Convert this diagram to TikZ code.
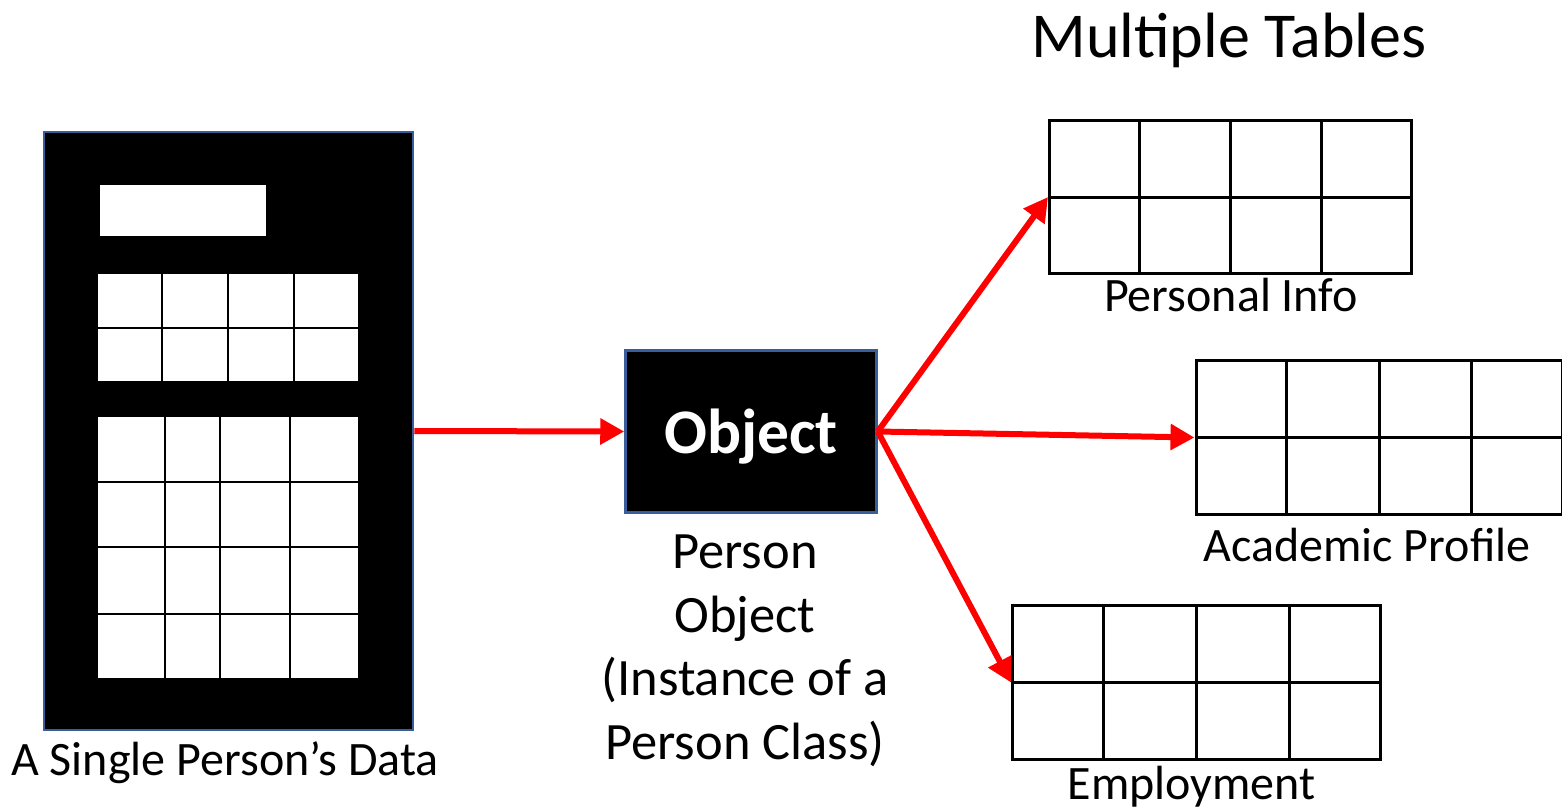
\documentclass[tikz,border=0pt]{standalone}
\usepackage{fontspec}
\setmainfont{Carlito}
\usetikzlibrary{arrows.meta,calc}

\definecolor{edgeblue}{HTML}{3A5E9C}
\definecolor{arrowred}{HTML}{FF0000}

\tikzset{
  darkbox/.style={draw=edgeblue, line width=2.5pt, fill=black, inner sep=0pt},
  cellblock/.style={fill=white, draw=black, line width=2pt},
  cellline/.style={draw=black, line width=2pt},
  tablebox/.style={draw=black, line width=3pt, fill=white, inner sep=0pt, anchor=north west},
  tableline/.style={draw=black, line width=3pt},
  label/.style={font=\fontsize{48}{58}\selectfont, inner sep=0pt, text=black},
  biglabel/.style={font=\fontsize{52.5}{63.5}\selectfont, inner sep=0pt, text=black},
  title/.style={font=\fontsize{64}{72}\selectfont, inner sep=0pt, text=black},
  flow/.style={draw=arrowred, line width=6pt, -{Triangle[length=24pt,width=25pt]}},
}

% draws the inner lines of a table node: #1 name, #2 columns
\newcommand{\tablegrid}[2]{%
  \foreach \i in {1,...,\numexpr#2-1\relax}{
    \draw[tableline] ($(#1.north west)!{\i/#2}!(#1.north east)$) -- ($(#1.south west)!{\i/#2}!(#1.south east)$);
  }
  \draw[tableline] (#1.west) -- (#1.east);
}

\begin{document}
\begin{tikzpicture}[x=1pt,y=-1pt]
  \useasboundingbox (0,0) rectangle (1562,808);

  % --- the person's data record ---
  \node[darkbox, minimum width=369pt, minimum height=598pt] (data) at (228.5,431) {};
  \node[cellblock, minimum width=168pt, minimum height=53pt, inner sep=0pt, anchor=north west] (field) at (97.5,183) {};
  % upper grid: 4 x 2
  \draw[cellblock] (96.5,273) rectangle (358.5,381.5);
  \foreach \x in {161.5,227.5,293.5} \draw[cellline] (\x,273) -- (\x,381.5);
  \draw[cellline] (96.5,327.5) -- (358.5,327.5);
  % lower grid: 4 x 4
  \draw[cellblock] (96.5,416) rectangle (358.5,678.5);
  \foreach \x in {165,219.5,289.5} \draw[cellline] (\x,416) -- (\x,678.5);
  \foreach \y in {481.5,547,613.5} \draw[cellline] (96.5,\y) -- (358.5,\y);

  \node[label, anchor=base] (datalabel) at (225,775) {A Single Person’s Data};

  % --- the object ---
  \node[darkbox, minimum width=251pt, minimum height=162pt] (obj) at (751,431.5) {};
  \node[inner sep=0pt, text=white, font=\fontsize{63.5}{70}\selectfont\bfseries, anchor=base]
        (objtext) at (751,453) {Object};
  \node[biglabel, align=center, anchor=north] (objlabel) at (745,535)
        {Person\\Object\\(Instance of a\\Person Class)};

  % --- the tables ---
  \node[title, anchor=base] (tabtitle) at (1229,58) {Multiple Tables};

  \node[tablebox, minimum width=362pt, minimum height=153pt] (info) at (1048,119) {};
  \tablegrid{info}{4}
  \node[label, anchor=base] (infolabel) at (1231,311.5) {Personal Info};

  \node[tablebox, minimum width=366pt, minimum height=154pt] (acad) at (1194.5,359) {};
  \tablegrid{acad}{4}
  \node[label, anchor=base] (acadlabel) at (1367,561.5) {Academic Profile};

  \node[tablebox, minimum width=368pt, minimum height=154pt] (job) at (1011,604) {};
  \tablegrid{job}{4}
  \node[label, anchor=base] (joblabel) at (1191.5,799) {Employment};

  % --- connectors ---
  \draw[flow] (data.east) -- (obj.west);
  \draw[flow] (obj.east) -- (info.west);
  \draw[flow] (obj.east) -- (acad.west);
  \draw[flow] (obj.east) -- (job.west);
\end{tikzpicture}
\end{document}
